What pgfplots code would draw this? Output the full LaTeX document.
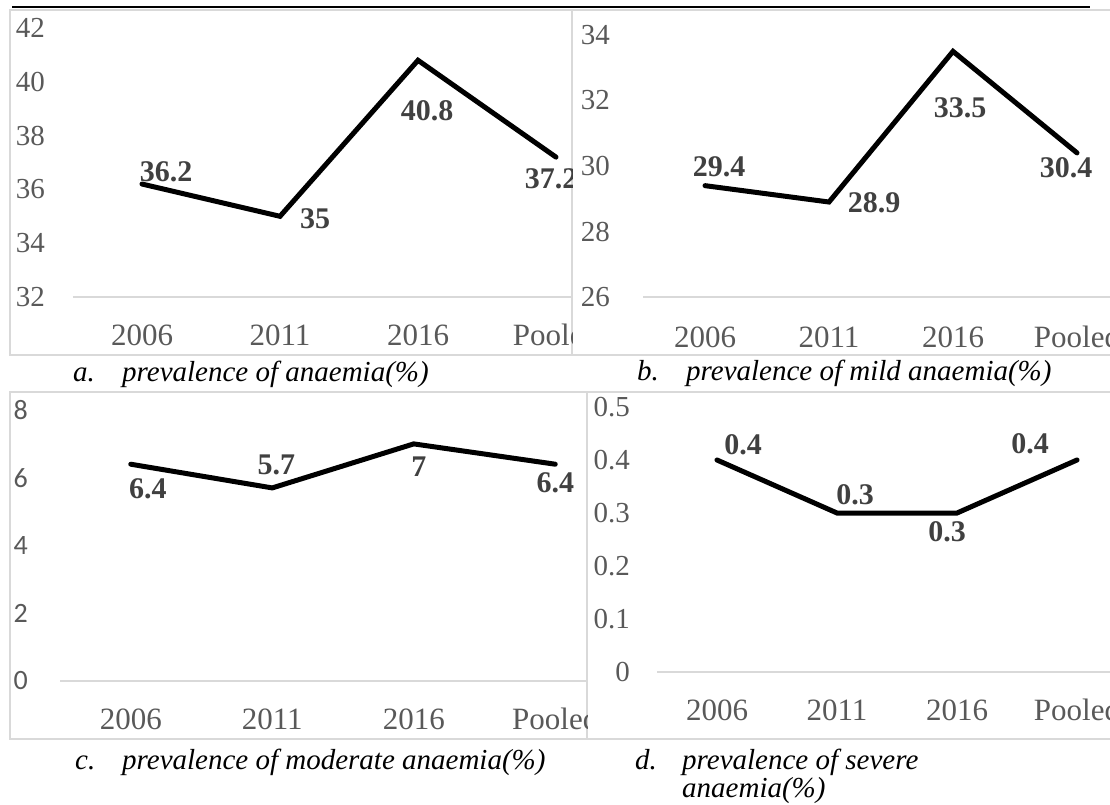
\documentclass[border=0pt]{standalone}
\usepackage{pgfplots}
\pgfplotsset{compat=1.18}
\usepackage{fontspec}
\setmainfont{Liberation Serif}
\newfontfamily\calibri{Carlito}
\definecolor{tickgray}{HTML}{595959}
\definecolor{labgray}{HTML}{404040}
\definecolor{framegray}{HTML}{D9D9D9}
\pgfplotsset{
  panel/.style={
    scale only axis, clip=false,
    axis line style={draw=none},
    tick style={draw=none}, major tick length=0pt,
    xmin=-0.5, xmax=3.5,
    xtick={0,1,2,3}, xticklabels={2006,2011,2016,Pooled},
    xticklabel style={font=\fontsize{31}{31}\selectfont, text=tickgray, anchor=base, inner sep=0pt},
    yticklabel style={font=\fontsize{29}{29}\selectfont, text=tickgray, anchor=east, inner sep=0pt},
    /pgf/number format/assume math mode=true,
  },
  dataline/.style={black, line width=5pt, line join=miter, line cap=round, mark=none,
    nodes near coords, point meta=explicit symbolic,
    visualization depends on={\thisrow{dx} \as \dx},
    visualization depends on={\thisrow{dy} \as \dy},
    every node near coord/.append style={font=\bfseries\fontsize{30}{30}\selectfont, text=labgray, anchor=center, inner sep=0pt, xshift=\dx, yshift=\dy}
  }
}
\pgfplotstableread{
x y dx dy lab
0 36.2 24 12 36.2
1 35.0 35 -2 35
2 40.8 9 -50 40.8
3 37.2 -5 -22 37.2
}\tabA
\pgfplotstableread{
x y dx dy lab
0 29.4 14 19 29.4
1 28.9 45 -1 28.9
2 33.5 7 -56 33.5
3 30.4 -11 -15 30.4
}\tabB
\pgfplotstableread{
x y dx dy lab
0 6.4 17 -25 6.4
1 5.7 4 23 5.7
2 7.0 5 -23 7
3 6.4 0 -19 6.4
}\tabC
\pgfplotstableread{
x y dx dy lab
0 0.4 26 15 0.4
1 0.3 18 18 0.3
2 0.3 -10 -19 0.3
3 0.4 -47 16 0.4
}\tabD
\begin{document}
\begin{tikzpicture}
\path[use as bounding box] (0pt,0pt) rectangle (1110pt,-805pt);
% top rule
\draw[black, line width=1.5pt] (12pt,-7pt) -- (1090pt,-7pt);
% frames
\draw[framegray, line width=1.3pt] (10pt,-10pt) rectangle (572pt,-355pt);
\draw[framegray, line width=1.3pt] (572pt,-10pt) rectangle (1116pt,-355pt);
\draw[framegray, line width=1.3pt] (10pt,-392pt) rectangle (587pt,-739pt);
\draw[framegray, line width=1.3pt] (587pt,-392pt) rectangle (1116pt,-739pt);
% panel a
\begin{scope}
\clip (10pt,-10pt) rectangle (572pt,-355pt);
\begin{axis}[panel, at={(73pt,-297pt)}, anchor=south west, width=552pt, height=269pt,
  ymin=32, ymax=42, ytick={32,34,...,42}, yticklabels={32,34,36,38,40,42},
  yticklabel style={xshift=-28pt}, xticklabel style={yshift=-48pt}]
\draw[framegray, line width=1.3pt] (rel axis cs:0,0) -- (rel axis cs:1,0);
\addplot[dataline] table[x=x, y=y, meta=lab]{\tabA};
\end{axis}
\end{scope}
% panel b
\begin{scope}
\clip (572pt,-10pt) rectangle (1110pt,-355pt);
\begin{axis}[panel, at={(643pt,-297pt)}, anchor=south west, width=496pt, height=262pt,
  ymin=26, ymax=34, ytick={26,28,...,34}, yticklabels={26,28,30,32,34},
  yticklabel style={xshift=-33pt}, xticklabel style={yshift=-50pt}]
\draw[framegray, line width=1.3pt] (rel axis cs:0,0) -- (rel axis cs:1,0);
\addplot[dataline] table[x=x, y=y, meta=lab]{\tabB};
\end{axis}
\end{scope}
% panel c
\begin{scope}
\clip (10pt,-392pt) rectangle (587pt,-739pt);
\begin{axis}[panel, at={(60pt,-681pt)}, anchor=south west, width=566pt, height=271pt,
  ymin=0, ymax=8, ytick={0,2,...,8}, yticklabels={0,2,4,6,8},
  yticklabel style={xshift=-32pt, font=\calibri\fontsize{28}{28}\selectfont}, xticklabel style={yshift=-48pt}]
\draw[framegray, line width=1.3pt] (rel axis cs:0,0) -- (rel axis cs:1,0);
\addplot[dataline] table[x=x, y=y, meta=lab]{\tabC};
\end{axis}
\end{scope}
% panel d
\begin{scope}
\clip (587pt,-392pt) rectangle (1110pt,-739pt);
\begin{axis}[panel, at={(657pt,-672pt)}, anchor=south west, width=480pt, height=265pt,
  ymin=0, ymax=0.5, ytick={0,0.1,0.2,0.3,0.4,0.5}, yticklabels={0,0.1,0.2,0.3,0.4,0.5},
  yticklabel style={xshift=-27pt}, xticklabel style={yshift=-48pt}]
\draw[framegray, line width=1.3pt] (rel axis cs:0,0) -- (rel axis cs:1,0);
\addplot[dataline] table[x=x, y=y, meta=lab]{\tabD};
\end{axis}
\end{scope}
% captions
\begin{scope}[every node/.style={anchor=base west, inner sep=0pt, font=\itshape\fontsize{29}{29}\selectfont}]
\node at (73pt,-381pt) {a.};
\node at (122pt,-381pt) {prevalence of anaemia(\%)};
\node at (637pt,-380pt) {b.};
\node at (686pt,-380pt) {prevalence of mild anaemia(\%)};
\node at (75pt,-769pt) {c.};
\node at (122pt,-769pt) {prevalence of moderate anaemia(\%)};
\node at (635pt,-769pt) {d.};
\node at (682pt,-769pt) {prevalence of severe};
\node at (682pt,-797pt) {anaemia(\%)};
\end{scope}
\end{tikzpicture}
\end{document}
